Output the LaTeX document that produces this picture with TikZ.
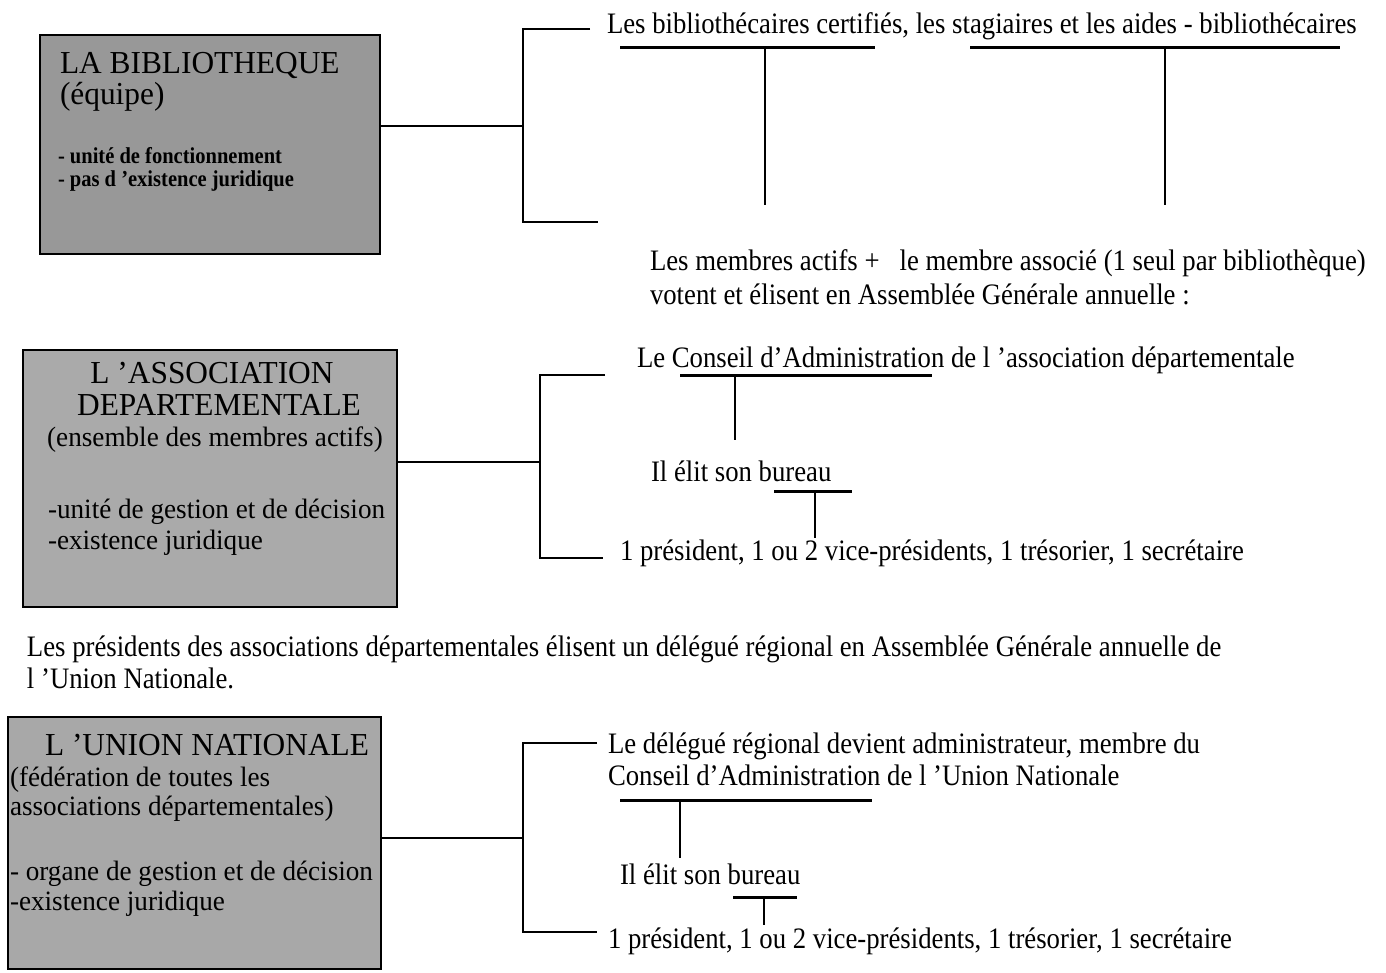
\documentclass[tikz,border=0pt]{standalone}
\usepackage{fontspec}
\setmainfont{Liberation Serif}[FakeStretch=0.9]
\newfontfamily\headfont{Liberation Serif}[FakeStretch=0.98,Ligatures=TeX]
\newfontfamily\subfont{Liberation Serif}[FakeStretch=0.97,Ligatures=TeX]
\definecolor{bibgray}{RGB}{152,152,152}
\definecolor{assgray}{RGB}{170,170,170}
\definecolor{unigray}{RGB}{168,168,168}

\begin{document}
\begin{tikzpicture}
  [x=1pt,y=-1pt,line width=2.4pt,every node/.style={inner sep=0pt,outer sep=0pt}]

  \tikzstyle{txt}   = [anchor=base west,font=\fontsize{29.7}{34}\selectfont]
  \tikzstyle{head}  = [anchor=base west,font=\headfont\fontsize{32}{32}\selectfont]
  \tikzstyle{sub}   = [anchor=base west,font=\subfont\fontsize{28}{28}\selectfont]
  \tikzstyle{small} = [anchor=base west,font=\fontsize{22.8}{22}\selectfont\bfseries]
  \tikzstyle{box}   = [draw,line width=2.5pt,anchor=north west]
  \tikzstyle{ul}    = [line width=3pt]
  \tikzstyle{drop}  = [line width=2pt]

  \useasboundingbox (0,0) rectangle (1386,972);

  % the three boxes
  \node[box,fill=bibgray,minimum width=340pt,minimum height=219pt] (bib) at (40,35) {};
  \node[box,fill=assgray,minimum width=374pt,minimum height=257pt] (ass) at (23,350) {};
  \node[box,fill=unigray,minimum width=373pt,minimum height=252pt] (uni) at (8,717) {};

  \node[head]  (bib1) at (60,73)  {LA BIBLIOTHEQUE};
  \node[head]  (bib2) at (60,104) {(équipe)};
  \node[small] (bib3) at (58,163) {- unité de fonctionnement};
  \node[small] (bib4) at (58,186) {- pas d ’existence juridique};

  \node[head,anchor=base] (ass1) at (212,383) {L ’ASSOCIATION};
  \node[head,anchor=base] (ass2) at (219,415) {DEPARTEMENTALE};
  \node[sub,anchor=base]  (ass3) at (215,446) {(ensemble des membres actifs)};
  \node[sub] (ass4) at (48,518) {-unité de gestion et de décision};
  \node[sub] (ass5) at (48,549) {-existence juridique};

  \node[head] (uni1) at (45,755) {L ’UNION NATIONALE};
  \node[sub]  (uni2) at (10,786) {(fédération de toutes les};
  \node[sub]  (uni3) at (10,815) {associations départementales)};
  \node[sub]  (uni4) at (10,880) {- organe de gestion et de décision};
  \node[sub]  (uni5) at (10,910) {-existence juridique};

  % la bibliotheque
  \node[txt] (cert) at (607,33)  {Les bibliothécaires certifiés, les stagiaires et les aides - bibliothécaires};
  \node[txt] (memb) at (650,270) {Les membres actifs +~~~le membre associé (1 seul par bibliothèque)};
  \node[txt] (vote) at (650,304) {votent et élisent en Assemblée Générale annuelle :};

  \coordinate (k1)  at (523,126);
  \coordinate (b1t) at (590,29);
  \coordinate (b1b) at (598,222);
  \draw (k1 -| bib.east) -- (k1);
  \draw (b1t) -| (k1) |- (b1b);

  \coordinate (u1a) at (620,47);  \coordinate (u1b) at (875,47);
  \coordinate (u2a) at (970,47);  \coordinate (u2b) at (1340,47);
  \coordinate (d1)  at (765,205); \coordinate (d2)  at (1165,205);
  \draw[ul] (u1a) -- (u1b);
  \draw[ul] (u2a) -- (u2b);
  \draw[drop] (d1 |- u1a) -- (d1);
  \draw[drop] (d2 |- u2a) -- (d2);

  % l'association departementale
  \node[txt] (cad)  at (637,367) {Le Conseil d’Administration de l ’association départementale};
  \node[txt] (bur)  at (651,481) {Il élit son bureau};
  \node[txt] (pres) at (620,560) {1 président, 1 ou 2 vice-présidents, 1 trésorier, 1 secrétaire};

  \coordinate (k2)  at (540,462);
  \coordinate (b2t) at (605,375);
  \coordinate (b2b) at (603,558);
  \draw (k2 -| ass.east) -- (k2);
  \draw (b2t) -| (k2) |- (b2b);

  \coordinate (u3a) at (680,375); \coordinate (u3b) at (932,375);
  \coordinate (u4a) at (774,491); \coordinate (u4b) at (852,491);
  \coordinate (d3)  at (735,440); \coordinate (d4)  at (815,538);
  \draw[ul] (u3a) -- (u3b);
  \draw[ul] (u4a) -- (u4b);
  \draw[drop] (d3 |- u3a) -- (d3);
  \draw[drop] (d4 |- u4a) -- (d4);

  \node[txt] (elec1) at (27,656) {Les présidents des associations départementales élisent un délégué régional en Assemblée Générale annuelle de};
  \node[txt] (elec2) at (27,688) {l ’Union Nationale.};

  % l'union nationale
  \node[txt] (deleg1) at (608,753) {Le délégué régional devient administrateur, membre du};
  \node[txt] (deleg2) at (608,785) {Conseil d’Administration de l ’Union Nationale};
  \node[txt] (burn)   at (620,884) {Il élit son bureau};
  \node[txt] (presn)  at (608,948) {1 président, 1 ou 2 vice-présidents, 1 trésorier, 1 secrétaire};

  \coordinate (k3)  at (523,838);
  \coordinate (b3t) at (597,743);
  \coordinate (b3b) at (597,932);
  \draw (k3 -| uni.east) -- (k3);
  \draw (b3t) -| (k3) |- (b3b);

  \coordinate (u5a) at (620,800); \coordinate (u5b) at (872,800);
  \coordinate (u6a) at (733,897); \coordinate (u6b) at (797,897);
  \coordinate (d5)  at (680,858); \coordinate (d6)  at (764,925);
  \draw[ul] (u5a) -- (u5b);
  \draw[ul] (u6a) -- (u6b);
  \draw[drop] (d5 |- u5a) -- (d5);
  \draw[drop] (d6 |- u6a) -- (d6);
\end{tikzpicture}
\end{document}
